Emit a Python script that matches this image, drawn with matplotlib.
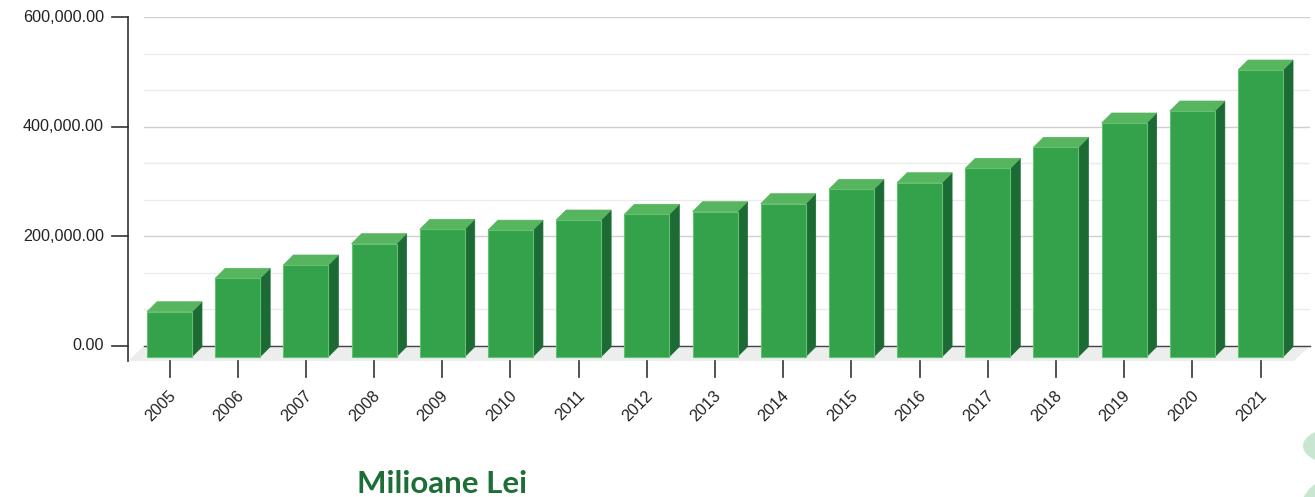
import matplotlib
matplotlib.use("Agg")
import matplotlib.pyplot as plt
from matplotlib.patches import Polygon, Rectangle, Ellipse

# data (milioane lei)
years = ["2005", "2006", "2007", "2008", "2009", "2010", "2011", "2012", "2013",
         "2014", "2015", "2016", "2017", "2018", "2019", "2020", "2021"]
values = [82100, 143100, 167400, 206300, 232500, 231000, 249500, 260000, 264700,
          279300, 305500, 317600, 343900, 382200, 426600, 448500, 523300]
y_ticks = [0, 200000, 400000, 600000]

# colours
c_front = "#33a24a"
c_top = "#58b55f"
c_side = "#1c6b35"
c_edge = "#64c172"
c_floor = "#eceeed"
c_title = "#1f6e38"

W, H = 1315, 497
fig = plt.figure(figsize=(W / 100, H / 100), dpi=100)

# background layer in pixel coords (decoration bottom right)
bg = fig.add_axes([0, 0, 1, 1], zorder=-5)
bg.set_xlim(0, W)
bg.set_ylim(H, 0)
bg.axis("off")
bg.add_patch(Ellipse((1336, 446), 66, 36, color="#c9e6d3", lw=0))
bg.add_patch(Ellipse((1338, 512), 76, 70, color="#c9e6d3", lw=0))

# plot area = back plane, in pixels
left, right, top, bottom = 144, 1310, 17, 345.7
ax = fig.add_axes([left / W, (H - bottom) / H, (right - left) / W, (bottom - top) / H])
step = 68.19
x0 = -(179.5 - left) / step
x1 = (right - 179.5) / step
ax.set_xlim(x0, x1)
ax.set_ylim(0, 600000)
ax.axis("off")

px = 1 / step                 # one pixel in x data units
py = 600000 / (bottom - top)  # one pixel in y data units

# gridlines
for k in range(1, 10):
    g = k * 200000 / 3
    major = k % 3 == 0
    ax.axhline(g, color="#cfcfcf" if major else "#ebebeb", lw=1, zorder=0)

# floor
floor = [(x0, 0), (x1, 0), (x1 - 16 * px, -15.3 * py), (x0 - 16 * px, -15.3 * py)]
ax.add_patch(Polygon(floor, closed=True, color=c_floor, lw=0, clip_on=False, zorder=1))
ax.plot([x0, x1], [0, 0], color="#444444", lw=1, zorder=2, clip_on=False)

# bars
w = 45 / step
dx, dyf, dyb = 10 * px, 11 * py, 1 * py
for i, v in enumerate(values):
    L, R = i - w / 2, i + w / 2
    side = [(R - dx, -dyf), (R, -dyb), (R, v - dyb), (R - dx, v - dyf)]
    topf = [(L - dx, v - dyf), (R - dx, v - dyf), (R, v - dyb), (L, v - dyb)]
    ax.add_patch(Polygon(side, closed=True, fc=c_side, ec=c_side, lw=0.5,
                         clip_on=False, zorder=3))
    ax.add_patch(Polygon(topf, closed=True, fc=c_top, ec=c_top, lw=0.5,
                         clip_on=False, zorder=3))
    ax.add_patch(Rectangle((L - dx, -dyf), w, v, fc=c_front, ec=c_edge, lw=0.8,
                           clip_on=False, zorder=4))

# y axis (front plane)
ax_x = x0 - 16 * px
ax.plot([ax_x, ax_x], [600000, -15.3 * py], color="#333333", lw=1.2, clip_on=False)
for t in y_ticks:
    ax.plot([ax_x - 16 * px, ax_x], [t, t], color="#333333", lw=1.2, clip_on=False)
    ax.text(ax_x - 24 * px, t, f"{t:,.2f}", ha="right", va="center",
            fontsize=11.6, family="Liberation Sans", color="#222222")

# x ticks and labels
for i, yr in enumerate(years):
    xc = i - dx
    ax.plot([xc, xc], [-15.3 * py, -31.3 * py], color="#333333", lw=1.2, clip_on=False)
    ax.text(xc + 9 * px, -42 * py, yr, rotation=45, ha="right", va="top",
            fontsize=11.6, family="Liberation Sans", color="#222222")

fig.text(442.5 / W, (H - 493) / H, "Milioane Lei", ha="center", va="baseline",
         fontsize=22.5, fontweight="bold", family="Lato", color=c_title)

fig.savefig("out.png", dpi=100)
